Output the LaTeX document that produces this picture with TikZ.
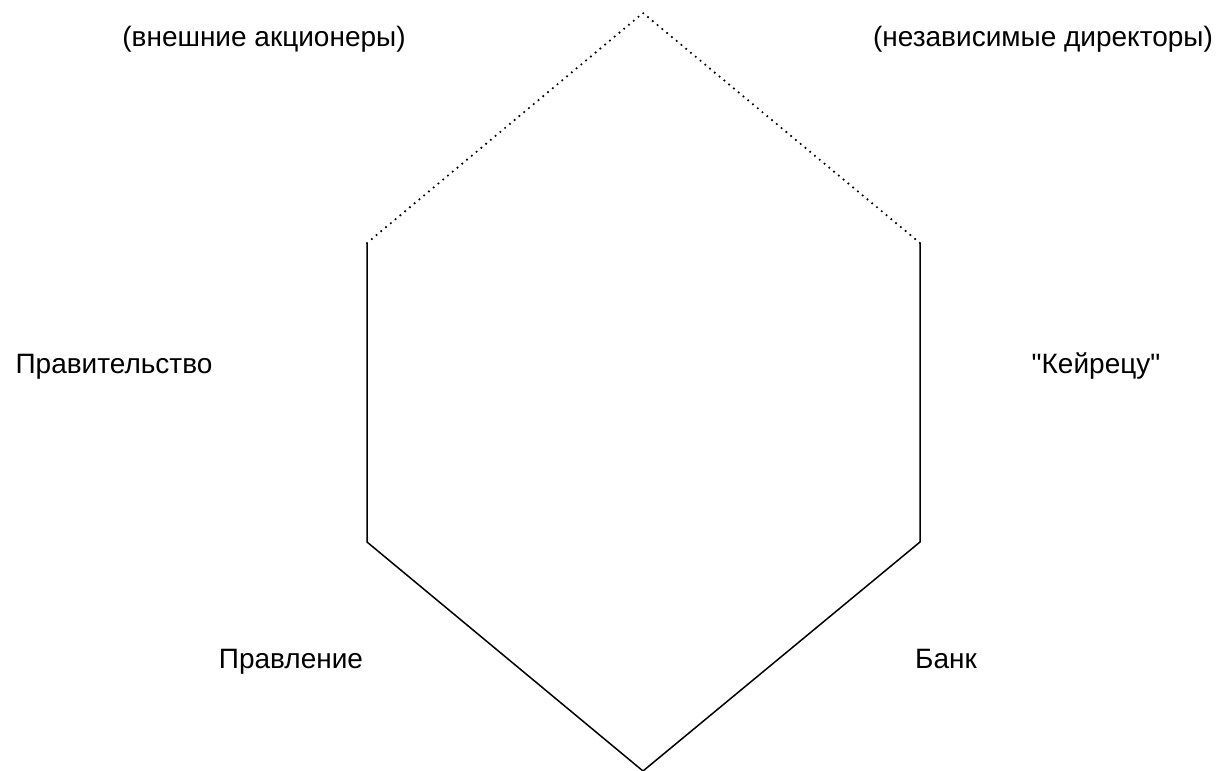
\documentclass[tikz,border=0pt]{standalone}
\usepackage{fontspec}
\setmainfont{Liberation Sans}[Ligatures=TeXOff]
\begin{document}
\begin{tikzpicture}[x=1pt,y=-1pt,
  lbl/.style={anchor=base,inner sep=0pt,font=\fontsize{28}{32}\selectfont},
  edge/.style={line width=1.5pt,line join=miter},
  dotedge/.style={line width=2.4pt,line cap=round,dash pattern=on 0pt off 6.2pt}]
\useasboundingbox (0,0) rectangle (1224,771);
\coordinate (T) at (643,13);
\coordinate (UL) at (367,243);
\coordinate (LL) at (367,542);
\coordinate (B) at (643,771);
\coordinate (LR) at (920,542);
\coordinate (UR) at (920,243);
\draw[edge] (UL) -- (LL) -- (B) -- (LR) -- (UR);
\draw[dotedge] (UL) -- (T) -- (UR);
\node[lbl] (ext) at (264,46) {(внешние акционеры)};
\node[lbl] (ind) at (1043,46) {(независимые директоры)};
\node[lbl] (gov) at (114,373) {Правительство};
\node[lbl] (kei) at (1096,373) {"Кейрецу"};
\node[lbl] (brd) at (291,668) {Правление};
\node[lbl] (bank) at (946,668) {Банк};
\end{tikzpicture}
\end{document}
